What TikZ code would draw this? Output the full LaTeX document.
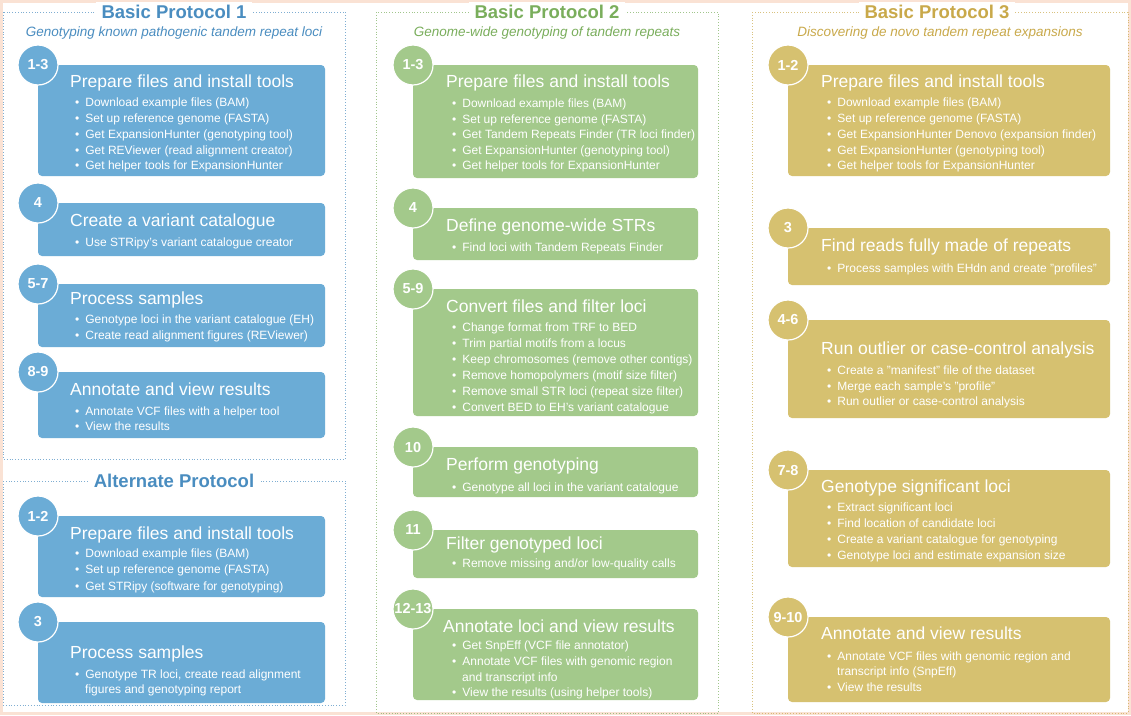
\documentclass[tikz,border=0pt]{standalone}
\usepackage{fontspec}
\setmainfont{Liberation Sans}
\definecolor{cb}{RGB}{107,172,214}
\definecolor{cg}{RGB}{163,201,139}
\definecolor{cy}{RGB}{214,193,112}
\definecolor{tb}{RGB}{74,141,192}
\definecolor{tg}{RGB}{122,174,92}
\definecolor{ty}{RGB}{201,169,74}
\definecolor{peach}{RGB}{250,226,212}
\newcommand\stbox[7]{\fill[#6,rounded corners=4] (#2,#3) rectangle (#4,#5);
 \node[numc,fill=#6] (#1) at (#2,#3) {#7};}
\newcommand\hd[3]{\node[hdn] at (#1,#2+6) {#3};}
\newcommand\bl[3]{\node[bln] at (#1,#2+4) {•\hspace{6pt}#3};}
\newcommand\bc[3]{\node[bln] at (#1,#2+4) {#3};}
\begin{document}
\begin{tikzpicture}[x=1pt,y=-1pt,
 numc/.style={circle,draw=white,line width=1.2pt,minimum size=40pt,inner sep=0pt,text=white,font=\fontsize{14.5}{16}\selectfont\bfseries},
 hdn/.style={anchor=base west,inner sep=0pt,text=white,font=\fontsize{17.5}{19}\selectfont},
 bln/.style={anchor=base west,inner sep=0pt,text=white,font=\fontsize{12}{13}\selectfont},
 framel/.style={dotted,line width=0.8pt,opacity=0.7},
 title/.style={fill=white,inner xsep=6pt,font=\fontsize{18.5}{20}\selectfont\bfseries},
 sub/.style={font=\fontsize{13.5}{15}\selectfont\itshape}]
\fill[white] (0,0) rectangle (1131,715);
\draw[peach,line width=3pt] (1.5,1.5) rectangle (1129.5,713.5);
\useasboundingbox (0,0) rectangle (1131,715);
% Basic Protocol 1
\draw[framel,tb] (3,12) rectangle (345,459);
\node[title,text=tb] (t1) at (174,12) {Basic Protocol 1};
\node[sub,text=tb] (s1) at (174,33) {Genotyping known pathogenic tandem repeat loci};
\stbox{a1}{38}{65}{325}{176}{cb}{1-3}
\hd{70}{81}{Prepare files and install tools}
\bl{75}{102}{Download example files (BAM)}
\bl{75}{118}{Set up reference genome (FASTA)}
\bl{75}{134}{Get ExpansionHunter (genotyping tool)}
\bl{75}{150}{Get REViewer (read alignment creator)}
\bl{75}{165}{Get helper tools for ExpansionHunter}
\stbox{a2}{38}{203}{325}{256}{cb}{4}
\hd{70}{220}{Create a variant catalogue}
\bl{75}{242}{Use STRipy's variant catalogue creator}
\stbox{a3}{38}{284}{325}{347}{cb}{5-7}
\hd{70}{298}{Process samples}
\bl{75}{319}{Genotype loci in the variant catalogue (EH)}
\bl{75}{335}{Create read alignment figures (REViewer)}
\stbox{a4}{38}{372}{325}{438}{cb}{8-9}
\hd{70}{389}{Annotate and view results}
\bl{75}{411}{Annotate VCF files with a helper tool}
\bl{75}{426}{View the results}
% Alternate
\draw[framel,tb] (3,481) rectangle (345,705);
\node[title,text=tb] (t4) at (174,481) {Alternate Protocol};
\stbox{b1}{38}{516}{325}{597}{cb}{1-2}
\hd{70}{533}{Prepare files and install tools}
\bl{75}{553}{Download example files (BAM)}
\bl{75}{569}{Set up reference genome (FASTA)}
\bl{75}{586}{Get STRipy (software for genotyping)}
\stbox{b2}{38}{622}{325}{703}{cb}{3}
\hd{70}{652}{Process samples}
\bl{75}{674}{Genotype TR loci, create read alignment}
\bc{85}{689}{figures and genotyping report}
% Basic Protocol 2
\draw[framel,tg] (376,12) rectangle (718,713);
\node[title,text=tg] (t2) at (547,12) {Basic Protocol 2};
\node[sub,text=tg] (s2) at (547,33) {Genome-wide genotyping of tandem repeats};
\stbox{c1}{413}{65}{698}{178}{cg}{1-3}
\hd{446}{81}{Prepare files and install tools}
\bl{452}{103}{Download example files (BAM)}
\bl{452}{119}{Set up reference genome (FASTA)}
\bl{452}{134}{Get Tandem Repeats Finder (TR loci finder)}
\bl{452}{150}{Get ExpansionHunter (genotyping tool)}
\bl{452}{165}{Get helper tools for ExpansionHunter}
\stbox{c2}{413}{208}{698}{260}{cg}{4}
\hd{446}{225}{Define genome-wide STRs}
\bl{452}{247}{Find loci with Tandem Repeats Finder}
\stbox{c3}{413}{289}{698}{416}{cg}{5-9}
\hd{446}{306}{Convert files and filter loci}
\bl{452}{327}{Change format from TRF to BED}
\bl{452}{343}{Trim partial motifs from a locus}
\bl{452}{359}{Keep chromosomes (remove other contigs)}
\bl{452}{375}{Remove homopolymers (motif size filter)}
\bl{452}{391}{Remove small STR loci (repeat size filter)}
\bl{452}{407}{Convert BED to EH's variant catalogue}
\stbox{c4}{413}{447}{698}{497}{cg}{10}
\hd{446}{464}{Perform genotyping}
\bl{452}{487}{Genotype all loci in the variant catalogue}
\stbox{c5}{413}{530}{698}{578}{cg}{11}
\hd{446}{543}{Filter genotyped loci}
\bl{452}{563}{Remove missing and/or low-quality calls}
\stbox{c6}{413}{609}{698}{700}{cg}{12-13}
\hd{443}{626}{Annotate loci and view results}
\bl{452}{645}{Get SnpEff (VCF file annotator)}
\bl{452}{661}{Annotate VCF files with genomic region}
\bc{462}{677}{and transcript info}
\bl{452}{692}{View the results (using helper tools)}
% Basic Protocol 3
\draw[framel,ty] (752,12) rectangle (1128,713);
\node[title,text=ty] (t3) at (937,12) {Basic Protocol 3};
\node[sub,text=ty] (s3) at (940,33) {Discovering de novo tandem repeat expansions};
\stbox{d1}{788}{65}{1110}{176}{cy}{1-2}
\hd{821}{81}{Prepare files and install tools}
\bl{827}{102}{Download example files (BAM)}
\bl{827}{118}{Set up reference genome (FASTA)}
\bl{827}{134}{Get ExpansionHunter Denovo (expansion finder)}
\bl{827}{150}{Get ExpansionHunter (genotyping tool)}
\bl{827}{165}{Get helper tools for ExpansionHunter}
\stbox{d2}{788}{228}{1110}{285}{cy}{3}
\hd{821}{245}{Find reads fully made of repeats}
\bl{827}{268}{Process samples with EHdn and create "profiles"}
\stbox{d3}{788}{320}{1110}{418}{cy}{4-6}
\hd{821}{348}{Run outlier or case-control analysis}
\bl{827}{370}{Create a "manifest" file of the dataset}
\bl{827}{386}{Merge each sample's "profile"}
\bl{827}{401}{Run outlier or case-control analysis}
\stbox{d4}{788}{470}{1110}{567}{cy}{7-8}
\hd{821}{486}{Genotype significant loci}
\bl{827}{507}{Extract significant loci}
\bl{827}{523}{Find location of candidate loci}
\bl{827}{539}{Create a variant catalogue for genotyping}
\bl{827}{555}{Genotype loci and estimate expansion size}
\stbox{d5}{788}{617}{1110}{702}{cy}{9-10}
\hd{821}{633}{Annotate and view results}
\bl{827}{656}{Annotate VCF files with genomic region and}
\bc{837}{671}{transcript info (SnpEff)}
\bl{827}{687}{View the results}
\end{tikzpicture}
\end{document}
